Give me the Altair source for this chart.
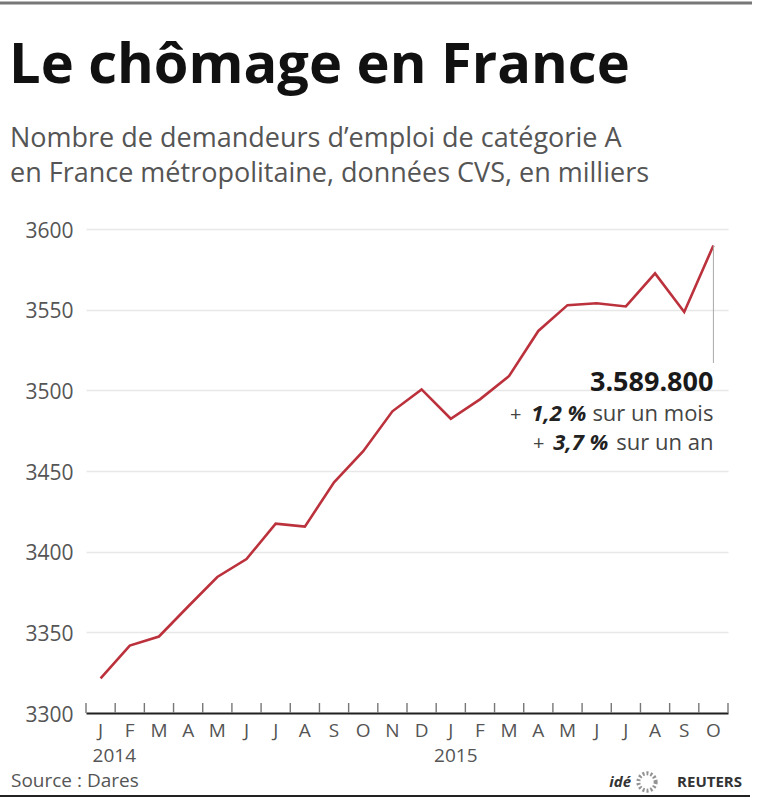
import altair as alt
import pandas as pd

# ---------------- data ----------------
TITLE = "Le chômage en France"
SUBTITLE_1 = "Nombre de demandeurs d’emploi de catégorie A"
SUBTITLE_2 = "en France métropolitaine, données CVS, en milliers"
SOURCE = "Source : Dares"

month_letters = ["J", "F", "M", "A", "M", "J", "J", "A", "S", "O", "N", "D",
                 "J", "F", "M", "A", "M", "J", "J", "A", "S", "O"]
values = [3321.5, 3341.8, 3347.4, 3366.0, 3384.3, 3395.4, 3417.4, 3415.5,
          3443.0, 3462.3, 3487.0, 3500.6,
          3482.4, 3494.4, 3508.9, 3536.8, 3552.8, 3554.0, 3552.0, 3572.5,
          3548.6, 3589.8]
year_labels = ["2014", "2015"]
y_ticks = [3300, 3350, 3400, 3450, 3500, 3550, 3600]

last_label = "3.589.800"
month_change = "1,2 %"
year_change = "3,7 %"
month_text = "sur un mois"
year_text = "sur un an"

# ---------------- tables ----------------
n = len(values)
df = pd.DataFrame({
    "pos": [i + 0.5 for i in range(n)],
    "value": values,
    "letter": month_letters,
})
ticks_df = pd.DataFrame({"pos": list(range(n + 1))})
last_df = df.iloc[[-1]].reset_index(drop=True)
y2014_df = pd.DataFrame({"pos": [df["pos"][0]], "year": [year_labels[0]]})
y2015_df = pd.DataFrame({"pos": [df["pos"][12]], "year": [year_labels[1]]})
one = lambda s: pd.DataFrame({"t": [s]})

W, H = 642, 484
FONT = "Open Sans"
RED = "#bb313c"

xscale = alt.Scale(domain=[0, n], nice=False, zero=False)
yscale = alt.Scale(domain=[3300, 3600], nice=False, zero=False)

x_enc = alt.X("pos:Q", scale=xscale,
              axis=alt.Axis(values=list(range(n + 1)), labels=False, ticks=False,
                            grid=False, domainColor="#222", domainWidth=2,
                            title=None))
y_enc = alt.Y("value:Q", scale=yscale,
              axis=alt.Axis(values=y_ticks, format="d", grid=True, gridColor="#e8e8e8",
                            gridWidth=1.5, domain=False, ticks=False,
                            labelFont=FONT, labelFontSize=21, labelColor="#555",
                            labelPadding=13, labelOffset=2, title=None))

line = alt.Chart(df).mark_line(color=RED, strokeWidth=2.6).encode(x=x_enc, y=y_enc)

tick_rules = alt.Chart(ticks_df).mark_rule(color="#777", strokeWidth=1.4).encode(
    x="pos:Q", y=alt.value(H), y2=alt.value(H - 10))

month_lbl = alt.Chart(df).mark_text(font=FONT, fontSize=19, color="#555",
                                    align="center", baseline="alphabetic").encode(
    x="pos:Q", y=alt.value(H + 24), text="letter:N")

yr2014 = alt.Chart(y2014_df).mark_text(font=FONT, fontSize=19, color="#555",
                                       align="left", baseline="alphabetic", dx=-8).encode(
    x="pos:Q", y=alt.value(H + 49), text="year:N")
yr2015 = alt.Chart(y2015_df).mark_text(font=FONT, fontSize=19, color="#555",
                                       align="center", baseline="alphabetic", dx=5).encode(
    x="pos:Q", y=alt.value(H + 49), text="year:N")

last_rule = alt.Chart(last_df).mark_rule(color="#aaa", strokeWidth=1).encode(
    x="pos:Q", y="value:Q", y2=alt.value(134))

def ann(txt, ypix, dx, size, weight="normal", style="normal", color="#444"):
    return alt.Chart(last_df).mark_text(font=FONT, fontSize=size, fontWeight=weight,
                                        fontStyle=style, color=color, align="right",
                                        baseline="alphabetic", dx=dx).encode(
        x="pos:Q", y=alt.value(ypix), text=alt.value(txt))

ann_layers = [
    ann(last_label, 162, 0, 27, weight="bold", color="#1a1a1a"),
    ann(month_text, 192, 0, 22),
    ann(month_change, 192, -127, 22, weight="bold", style="italic", color="#222"),
    ann("+", 192, -192, 20),
    ann(year_text, 221, 0, 22),
    ann(year_change, 221, -105, 22, weight="bold", style="italic", color="#222"),
    ann("+", 221, -169, 20),
]

def label(txt, x, y, size, weight="normal", color="#555", style="normal", align="left"):
    return alt.Chart(one(txt)).mark_text(font=FONT, fontSize=size, fontWeight=weight,
                                         fontStyle=style, color=color, align=align,
                                         baseline="alphabetic").encode(
        x=alt.value(x), y=alt.value(y), text="t:N")

texts = [
    label(TITLE, -77, -146, 56, weight="bold", color="#111"),
    label(SUBTITLE_1, -76, -82, 27, color="#555"),
    label(SUBTITLE_2, -76, -47, 27, color="#555"),
    label(SOURCE, -75, 558, 19, color="#555"),
    label("idé", 545, 558, 15, weight="bold", style="italic", color="#333", align="right"),
    label("REUTERS", 656, 558, 15, weight="bold", color="#333", align="right"),
]

logo = alt.Chart(one("logo")).mark_point(shape="circle", filled=False, size=300,
                                         color="#666", strokeWidth=4,
                                         strokeDash=[2, 2]).encode(
    x=alt.value(561), y=alt.value(553))

top_bar = alt.Chart(one("top")).mark_rule(color="#777", strokeWidth=3).encode(
    x=alt.value(-86), x2=alt.value(666), y=alt.value(-226))
bottom_bar = alt.Chart(one("bottom")).mark_rule(color="#222", strokeWidth=2).encode(
    x=alt.value(-86), x2=alt.value(664), y=alt.value(567))

chart = alt.layer(
    line, tick_rules, month_lbl, yr2014, yr2015, last_rule,
    *ann_layers, *texts, logo, top_bar, bottom_bar
).properties(
    width=W, height=H,
    padding={"left": 86, "top": 229, "right": 29, "bottom": 87},
    autosize=alt.AutoSizeParams(type="none"),
    background="white",
).configure_view(stroke=None)

chart.save("out.html", embed_options={"renderer": "svg", "actions": False})
